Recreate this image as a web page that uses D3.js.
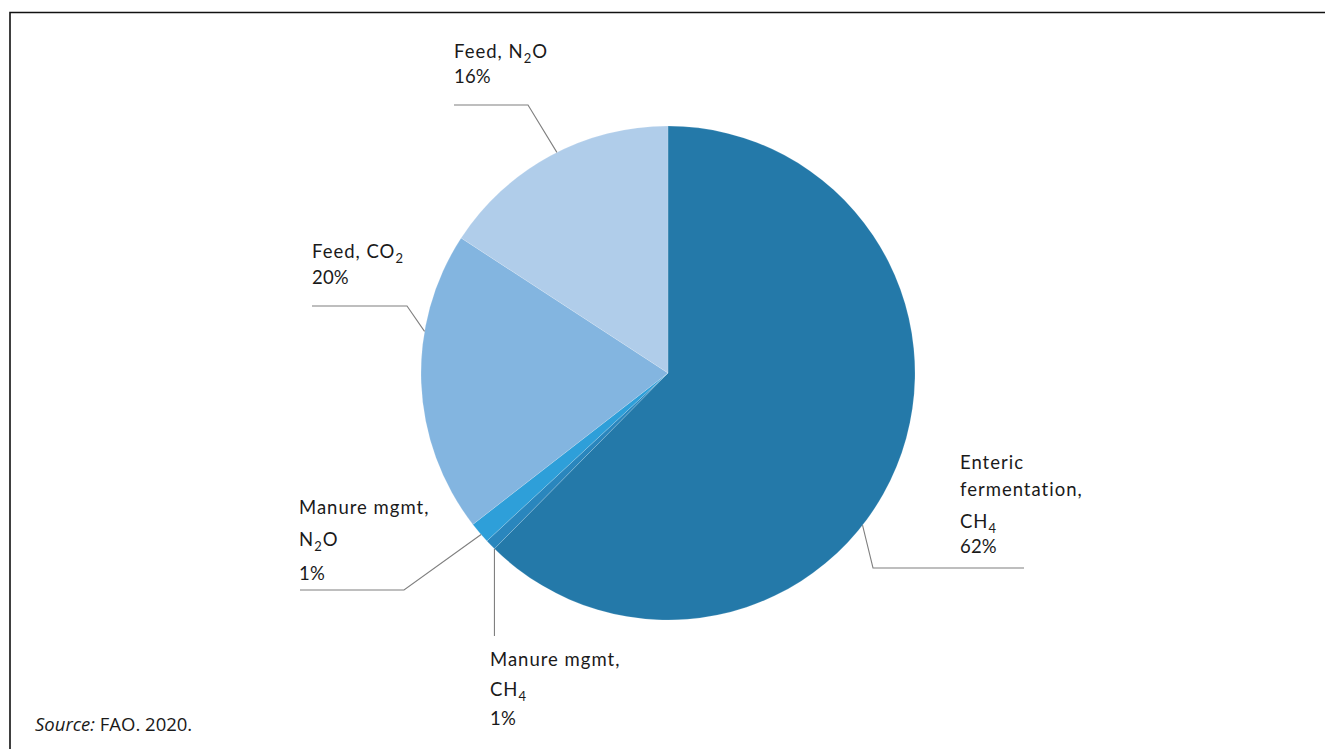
<!DOCTYPE html>
<html>
<head>
<meta charset="utf-8">
<script src="https://cdn.jsdelivr.net/npm/d3@7"></script>
<style>
  html, body { margin: 0; padding: 0; background: #fff; }
  svg { display: block; }
  text { font-family: Lato, "Open Sans", sans-serif; fill: #1a1a1a; }
</style>
</head>
<body>
<svg id="chart" width="1325" height="749"></svg>
<script>
// Share of emissions by source (percent)
const categories = ["Enteric fermentation, CH4", "Manure mgmt, CH4", "Manure mgmt, N2O", "Feed, CO2", "Feed, N2O"];
const shares = [62.4, 0.7, 1.4, 19.7, 15.8];
const shareLabels = ["62%", "1%", "1%", "20%", "16%"];
const colors = ["#2479a9", "#2a86bd", "#2e9fd9", "#83b5e0", "#b0cdea"];

// Label lines: each entry is a list of [text, subscript] parts per line
const labelLines = [
  [[["Enteric", ""]], [["fermentation,", ""]], [["CH", "4"]]],
  [[["Manure mgmt,", ""]], [["CH", "4"]]],
  [[["Manure mgmt,", ""]], [["N", "2"], ["O", ""]]],
  [[["Feed, CO", "2"]]],
  [[["Feed, N", "2"], ["O", ""]]]
];

// Label layout: text position, line spacing, where the leader leaves the
// slice (fraction of the slice's sweep), leader elbow and end
const labelLayout = [
  { x: 960, y: 469, gaps: [27, 32, 25], at: 0.57, elbow: [873, 568], end: [1024, 568] },
  { x: 490, y: 666, gaps: [30, 29], at: 0.0, elbow: null, end: [null, 636] },
  { x: 299, y: 514, gaps: [32, 34], at: 0.4, elbow: [404, 590], end: [300, 590] },
  { x: 312, y: 258, gaps: [26], at: 0.67, elbow: [407, 306], end: [312, 306] },
  { x: 454, y: 58, gaps: [25], at: 0.53, elbow: [528, 105], end: [454, 105] }
];

const svg = d3.select("#chart");
const cx = 668, cy = 373, radius = 247;

// Frame
svg.append("path")
  .attr("d", "M10,749 L10,12.5 L1325,12.5")
  .attr("fill", "none")
  .attr("stroke", "#111")
  .attr("stroke-width", 1.6);

const pie = d3.pie().sort(null).value(d => d);
const arcs = pie(shares);
const arc = d3.arc().innerRadius(0).outerRadius(radius);

const g = svg.append("g").attr("transform", `translate(${cx},${cy})`);
g.selectAll("path.slice")
  .data(arcs)
  .join("path")
  .attr("class", "slice")
  .attr("d", arc)
  .attr("fill", (d, i) => colors[i])
  .attr("stroke", "rgba(255,255,255,0.3)")
  .attr("stroke-width", 0.5);

// Leader lines leave the rim inside each slice
arcs.forEach((a, i) => {
  const L = labelLayout[i];
  const ang = a.startAngle + (a.endAngle - a.startAngle) * L.at;
  const sx = cx + Math.sin(ang) * radius;
  const sy = cy - Math.cos(ang) * radius;
  const pts = [[sx, sy]];
  if (L.elbow) pts.push(L.elbow);
  pts.push([L.end[0] === null ? sx : L.end[0], L.end[1]]);
  svg.append("path")
    .attr("d", d3.line()(pts))
    .attr("fill", "none")
    .attr("stroke", "#7f7f7f")
    .attr("stroke-width", 1.1);
});

// Labels
labelLines.forEach((lines, i) => {
  const L = labelLayout[i];
  const allLines = lines.concat([[[shareLabels[i], ""]]]);
  let y = L.y;
  allLines.forEach((parts, k) => {
    if (k > 0) y += L.gaps[k - 1];
    const t = svg.append("text")
      .attr("x", L.x)
      .attr("y", y)
      .attr("font-size", 18.5)
      .attr("letter-spacing", k === allLines.length - 1 ? 0.2 : 1.0);
    let shifted = false;
    parts.forEach(([main, sub]) => {
      const m = t.append("tspan").text(main);
      if (shifted) { m.attr("dy", -5); shifted = false; }
      if (sub) {
        t.append("tspan").attr("dy", 5).attr("font-size", 13).text(sub);
        shifted = true;
      }
    });
  });
});

// Source note
const src = svg.append("text")
  .attr("x", 35)
  .attr("y", 731)
  .attr("font-size", 18.5)
  .style("font-family", "'Open Sans', sans-serif");
src.append("tspan").attr("font-style", "italic").text("Source:");
src.append("tspan").text(" FAO. 2020.");
</script>
</body>
</html>
